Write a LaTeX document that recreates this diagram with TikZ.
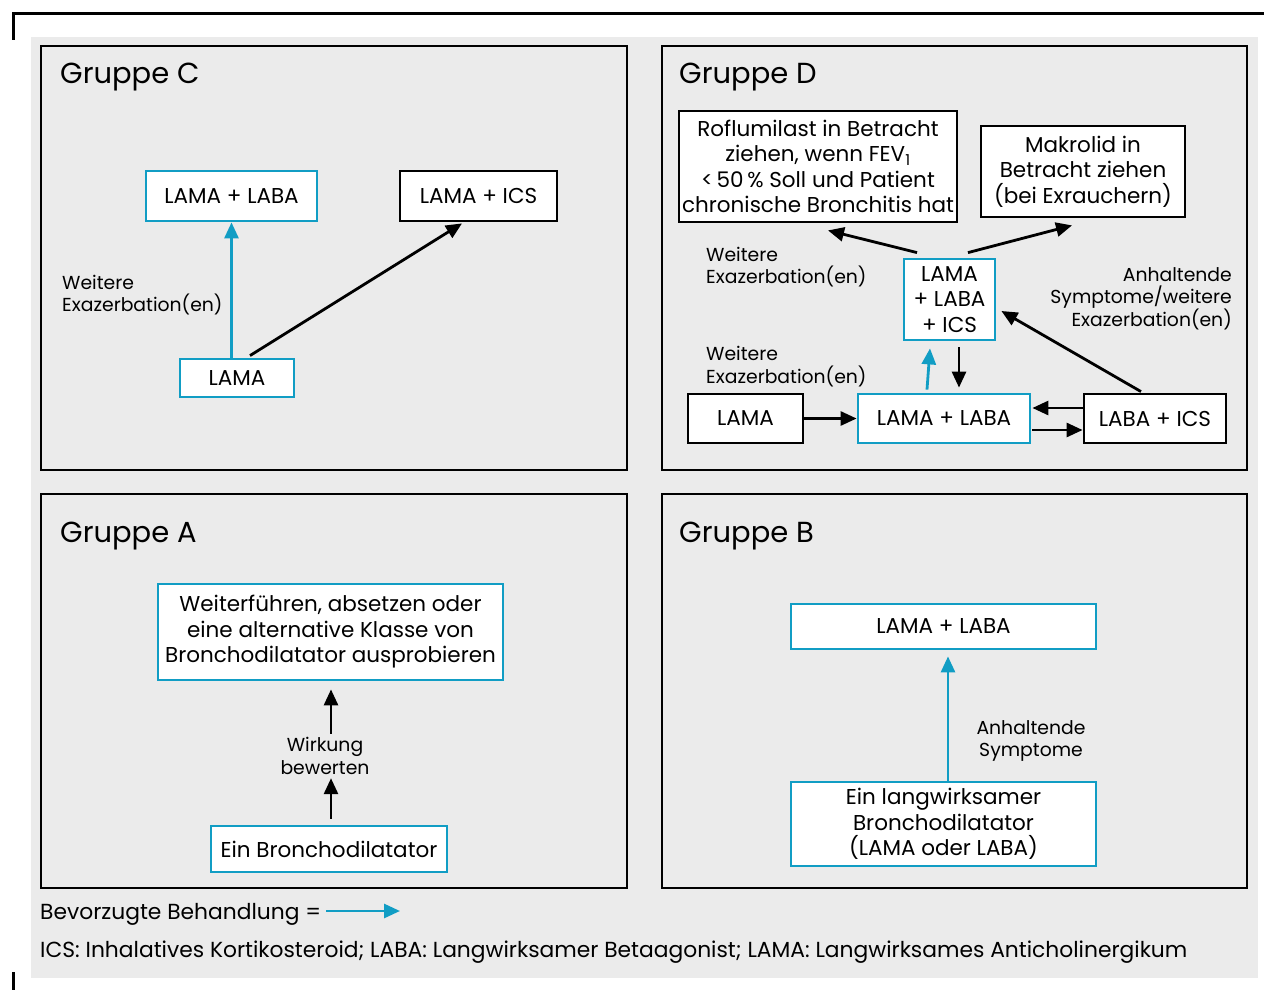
\documentclass[tikz,border=0pt]{standalone}
\usepackage{fontspec}
\setmainfont{Poppins}
\usetikzlibrary{arrows.meta}
\definecolor{cyanc}{RGB}{17,157,196}
\definecolor{bggray}{RGB}{235,235,235}
\tikzset{
  panel/.style={draw=black,line width=2.8pt},
  box/.style={draw=black,fill=white,line width=2.8pt,align=center,inner sep=0pt,font=\fontsize{21.5}{25.5}\selectfont},
  cbox/.style={box,draw=cyanc},
  lbl/.style={inner sep=0pt,font=\fontsize{18.8}{22.5}\selectfont},
  ttl/.style={inner sep=0pt,anchor=base west,font=\fontsize{29}{32}\selectfont},
  barrow/.style={draw=black,line width=2.8pt,-{Triangle[length=16pt,width=14pt]}},
  carrow/.style={draw=cyanc,line width=2.8pt,-{Triangle[length=16pt,width=14pt]}},
}
\begin{document}
\begin{tikzpicture}[x=1pt,y=-1pt]
\useasboundingbox (0,0) rectangle (1264,990);
\fill[bggray] (31,37) rectangle (1258,978);
\draw[line width=3pt] (13.5,40) -- (13.5,14) -- (1264,14);
\draw[line width=3pt] (13.5,972) -- (13.5,990);
% panels
\draw[panel] (41,46) rectangle (627,470);
\draw[panel] (662,46) rectangle (1247,470);
\draw[panel] (41,494) rectangle (627,888);
\draw[panel] (662,494) rectangle (1247,888);
\node[ttl] (tc) at (60,84) {Gruppe C};
\node[ttl] (td) at (679,84) {Gruppe D};
\node[ttl] (ta) at (60,542) {Gruppe A};
\node[ttl] (tb) at (679,542) {Gruppe B};
% Panel C
\node[cbox,minimum width=171pt,minimum height=50pt] (c1) at (231.5,196) {LAMA + LABA};
\node[box,minimum width=157pt,minimum height=50pt] (c2) at (478.5,196) {LAMA + ICS};
\node[cbox,minimum width=114pt,minimum height=38pt] (c3) at (237,378) {LAMA};
\node[lbl,anchor=west,align=left] (cl) at (62,295) {Weitere\\Exazerbation(en)};
\draw[carrow] (c3.north -| c1.south) -- (c1.south);
\draw[barrow] ([xshift=13pt,yshift=2pt]c3.north) -- ([xshift=-16.5pt,yshift=-1pt]c2.south);
% Panel D
\node[box,minimum width=278pt,minimum height=111pt] (d1) at (818,166.5) {Roflumilast in Betracht\\ziehen, wenn FEV\textsubscript{1}\\<\,50\,\% Soll und Patient\\chronische Bronchitis hat};
\node[box,minimum width=204pt,minimum height=91pt] (d2) at (1083,171.5) {Makrolid in\\Betracht ziehen\\(bei Exrauchern)};
\node[cbox,minimum width=91pt,minimum height=81pt] (d3) at (949.5,299.5) {LAMA\\+ LABA\\+ ICS};
\node[box,minimum width=115pt,minimum height=49pt] (d4) at (745.5,418.5) {LAMA};
\node[cbox,minimum width=172pt,minimum height=49pt] (d5) at (944,418.5) {LAMA + LABA};
\node[box,minimum width=142pt,minimum height=49pt] (d6) at (1155,418.5) {LABA + ICS};
\node[lbl,anchor=west,align=left] (dl1) at (706,267) {Weitere\\Exazerbation(en)};
\node[lbl,anchor=west,align=left] (dl2) at (706,366.5) {Weitere\\Exazerbation(en)};
\node[lbl,anchor=east,align=right] (dl3) at (1232,298.5) {Anhaltende\\Symptome/weitere\\Exazerbation(en)};
\draw[barrow] (d4.east) -- (d5.west);
\draw[barrow] ([yshift=10.5pt]d6.west) -- ([yshift=10.5pt,xshift=1pt]d5.east);
\draw[barrow] ([yshift=-11.5pt,xshift=1pt]d5.east) -- ([yshift=-11.5pt]d6.west);
\draw[carrow] ([xshift=-17pt,yshift=3pt]d5.north) -- ([xshift=-19.5pt,yshift=-7pt]d3.south);
\draw[barrow] ([xshift=9.5pt,yshift=-6pt]d3.south) -- ([xshift=15pt,yshift=5pt]d5.north);
\draw[barrow] ([xshift=-14pt,yshift=1pt]d6.north) -- ([xshift=5pt,yshift=-11.5pt]d3.east);
\draw[barrow] ([xshift=-32.5pt,yshift=5pt]d3.north) -- ([xshift=10pt,yshift=-7pt]d1.south);
\draw[barrow] ([xshift=18.5pt,yshift=5pt]d3.north) -- ([xshift=-11pt,yshift=-7pt]d2.south);
% Panel A
\node[cbox,minimum width=345pt,minimum height=96pt] (a1) at (330.5,632) {Weiterführen, absetzen oder\\eine alternative Klasse von\\Bronchodilatator ausprobieren};
\node[cbox,minimum width=236pt,minimum height=46pt] (a2) at (329,849) {Ein Bronchodilatator};
\node[lbl,align=center,minimum height=44pt] (aw) at (325,756) {Wirkung\\bewerten};
\draw[barrow] ([xshift=2pt,yshift=6pt]a2.north) -- ([xshift=2pt]a2.north |- aw.south);
\draw[barrow] ([xshift=2pt]a2.north |- aw.north) -- ([xshift=2pt,yshift=-8pt]a2.north |- a1.south);
% Panel B
\node[cbox,minimum width=305pt,minimum height=45pt] (b1) at (943.5,626.5) {LAMA + LABA};
\node[cbox,minimum width=305pt,minimum height=84pt] (b2) at (943.5,824) {Ein langwirksamer\\Bronchodilatator\\(LAMA oder LABA)};
\node[lbl,align=center] (bl) at (1031,741) {Anhaltende\\Symptome};
\draw[carrow] ([xshift=4.5pt]b2.north) -- ([xshift=4.5pt,yshift=-6pt]b1.south);
% Legend
\node[lbl,anchor=west,font=\fontsize{21.8}{24}\selectfont] (leg) at (40,914) {Bevorzugte Behandlung =};
\coordinate (legend end) at (400,911);
\draw[carrow] ([xshift=5pt,yshift=3pt]leg.east) -- (legend end);
\node[lbl,anchor=west,font=\fontsize{21.8}{24}\selectfont] (foot) at (40,952) {ICS: Inhalatives Kortikosteroid; LABA: Langwirksamer Betaagonist; LAMA: Langwirksames Anticholinergikum};
\end{tikzpicture}
\end{document}
